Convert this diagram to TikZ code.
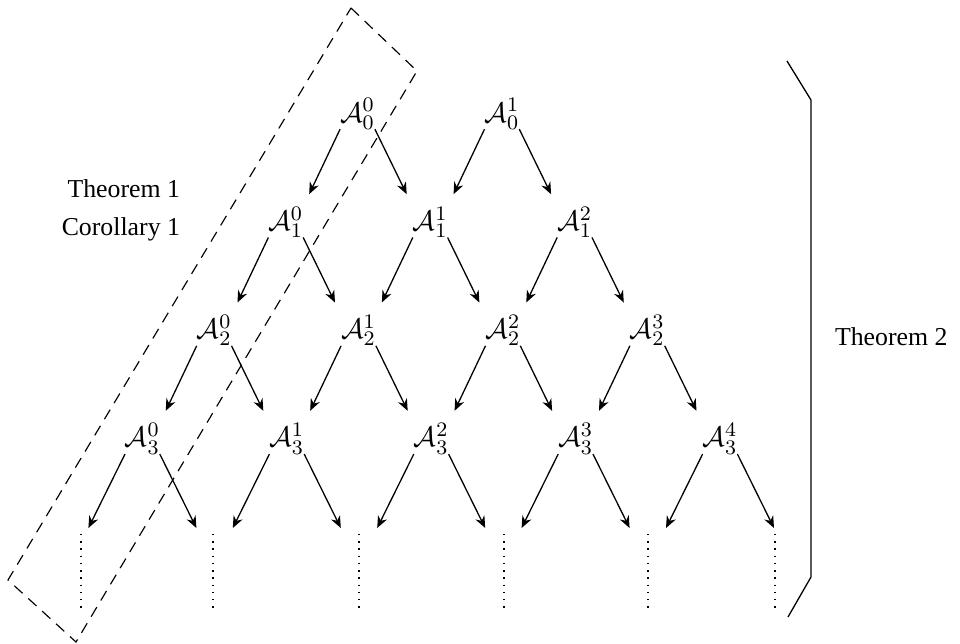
\documentclass[tikz,border=0pt]{standalone}
\usepackage[no-math]{fontspec}
\setmainfont{Liberation Serif}
\usetikzlibrary{arrows.meta}
\tikzset{
  anode/.style={inner sep=0pt, outer sep=0pt, anchor=base, font=\fontsize{11}{13}\selectfont},
  lbl/.style={inner sep=0pt, outer sep=0pt},
  arr/.style={-{Stealth[length=4.6pt,width=3.8pt,inset=1.5pt]}, line width=0.5pt, shorten >=5.4pt},
  arrb/.style={-{Stealth[length=4.6pt,width=3.8pt,inset=1.5pt]}, line width=0.5pt},
  dotcol/.style={line width=0.55pt, dash pattern=on 0.55pt off 2.25pt},
  boxdash/.style={line width=0.45pt, dash pattern=on 4.3pt off 3pt},
}
\begin{document}
\begin{tikzpicture}[x=0.3876pt, y=-0.3876pt]
\useasboundingbox (0,0) rectangle (960,643);
% nodes
\foreach \n in {0,...,3} {
  \pgfmathtruncatemacro\m{\n+1}
  \foreach \k in {0,...,\m} {
    \node[anode] (a\n\k) at ({357.5-71.7*\n+144.4*\k},{122+108.3*\n}) {$\mathcal{A}_{\n}^{\k}$};
  }
}
% arrows between rows
\foreach \n in {0,...,2} {
  \pgfmathtruncatemacro\m{\n+1}
  \foreach \k in {0,...,\m} {
    \pgfmathtruncatemacro\kk{\k+1}
    \draw[arr] (a\n\k.south west) -- (a\m\k.north east);
    \draw[arr] (a\n\k.south east) -- (a\m\kk.north west);
  }
}
% bottom arrows to dotted columns
\foreach \k in {0,...,4} {
  \coordinate (eL\k) at ({142.4+144.4*\k-54},528);
  \coordinate (eR\k) at ({142.4+144.4*\k+54},528);
  \draw[arrb] (a3\k.south west) -- (eL\k);
  \draw[arrb] (a3\k.south east) -- (eR\k);
}
% dotted columns
\foreach \x in {81,213,359,504,648,775} {
  \draw[dotcol] (\x,534) -- (\x,609);
}
% dashed box
\draw[boxdash] (351,8) -- (417,71) -- (76,642) -- (8,580) -- cycle;
% bracket
\draw[line width=0.5pt] (787,61) -- (811,100) -- (811,577) -- (788,617);
% labels
\node[lbl, anchor=base east] (t1) at (180,197) {Theorem 1};
\node[lbl, anchor=base east] (c1) at (180,235) {Corollary 1};
\node[lbl, anchor=base west] (t2) at (835,345) {Theorem 2};
\end{tikzpicture}
\end{document}
